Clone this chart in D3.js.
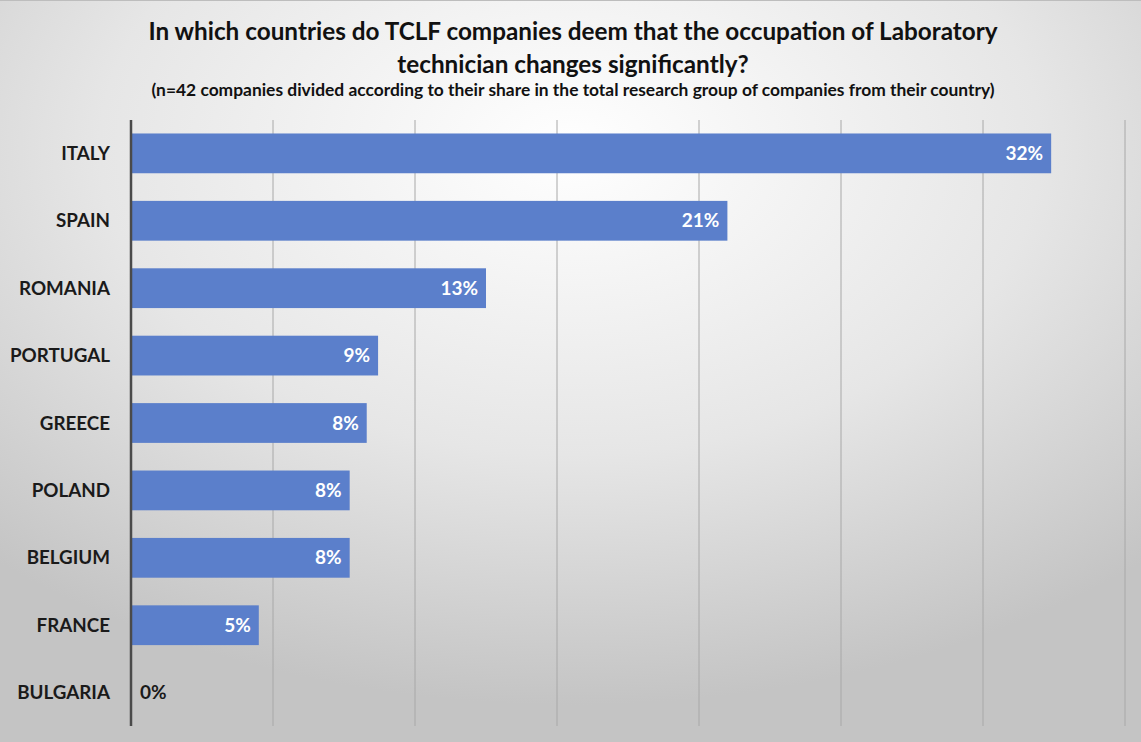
<!DOCTYPE html>
<html><head><meta charset="utf-8">
<script src="https://cdn.jsdelivr.net/npm/d3@7"></script>
<style>html,body{margin:0;padding:0;overflow:hidden;background:#ddd}</style>
</head><body>
<script>
const categories = ["ITALY","SPAIN","ROMANIA","PORTUGAL","GREECE","POLAND","BELGIUM","FRANCE","BULGARIA"];
const values = [32.4, 21.0, 12.5, 8.7, 8.3, 7.7, 7.7, 4.5, 0];
const valueLabels = ["32%","21%","13%","9%","8%","8%","8%","5%","0%"];
const gridTicks = [0,5,10,15,20,25,30,35];
const titleLines = ["In which countries do TCLF companies deem that the occupation of Laboratory","technician changes significantly?"];
const subtitle = "(n=42 companies divided according to their share in the total research group of companies from their country)";

const W = 1141, H = 742;
const margin = {top:120, right:17, bottom:16, left:131};
const font = "Lato, 'Open Sans', sans-serif";

const svg = d3.select("body").append("svg").attr("width",W).attr("height",H);
const defs = svg.append("defs");
const rg = defs.append("radialGradient").attr("id","bg").attr("cx","50%").attr("cy","20%").attr("r","75%");
rg.append("stop").attr("offset","0%").attr("stop-color","#ffffff");
rg.append("stop").attr("offset","55%").attr("stop-color","#e6e6e6");
rg.append("stop").attr("offset","100%").attr("stop-color","#c4c4c4");
svg.append("rect").attr("width",W).attr("height",H).attr("fill","url(#bg)");
svg.append("line").attr("x1",0).attr("x2",W).attr("y1",0.5).attr("y2",0.5).attr("stroke","#bdbdbd");

const x = d3.scaleLinear().domain([0,35]).range([margin.left, margin.left + 142*7]);
const y = d3.scaleBand().domain(categories).range([margin.top, H - margin.bottom]).paddingInner(0.41).paddingOuter(0.2);

// gridlines
svg.append("g").selectAll("line").data(gridTicks.slice(1)).join("line")
  .attr("x1",d=>x(d)).attr("x2",d=>x(d)).attr("y1",margin.top).attr("y2",H-margin.bottom)
  .attr("stroke","#a8a8a8").attr("stroke-width",1);

// bars
const data = categories.map((c,i)=>({c, v:values[i], l:valueLabels[i]}));
svg.append("g").selectAll("rect").data(data).join("rect")
  .attr("x",x(0)).attr("y",d=>y(d.c)).attr("width",d=>x(d.v)-x(0)).attr("height",y.bandwidth())
  .attr("fill","#5b7fcb");

// axis line
svg.append("line").attr("x1",x(0)).attr("x2",x(0)).attr("y1",margin.top).attr("y2",H-margin.bottom)
  .attr("stroke","#4a4a4a").attr("stroke-width",2.5);

// category labels
svg.append("g").selectAll("text").data(data).join("text")
  .attr("x",110).attr("y",d=>y(d.c)+y.bandwidth()/2).attr("dy","0.35em")
  .attr("text-anchor","end").attr("font-family",font).attr("font-weight",700).attr("font-size",18.8)
  .attr("fill","#1a1a1a").text(d=>d.c);

// value labels
svg.append("g").selectAll("text").data(data).join("text")
  .attr("x",d=>d.v>0 ? x(d.v)-8 : x(0)+9)
  .attr("y",d=>y(d.c)+y.bandwidth()/2).attr("dy","0.35em")
  .attr("text-anchor",d=>d.v>0?"end":"start")
  .attr("font-family",font).attr("font-weight",700).attr("font-size",19)
  .attr("fill",d=>d.v>0?"#ffffff":"#1a1a1a").text(d=>d.l);

// titles
svg.append("g").selectAll("text").data(titleLines).join("text")
  .attr("x",573).attr("y",(d,i)=>40+i*33).attr("text-anchor","middle")
  .attr("font-family",font).attr("font-weight",700).attr("font-size",24.3).attr("fill","#111")
  .text(d=>d);
svg.append("text").attr("x",573).attr("y",96).attr("text-anchor","middle")
  .attr("font-family",font).attr("font-weight",700).attr("font-size",17.4).attr("fill","#111")
  .text(subtitle);
</script>
</body></html>
